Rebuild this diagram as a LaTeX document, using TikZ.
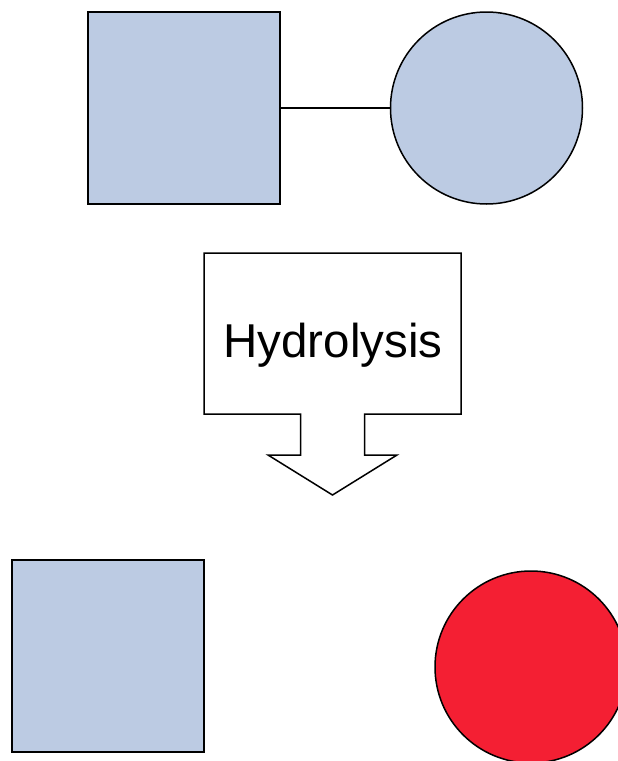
\documentclass[tikz,border=0pt]{standalone}
\usepackage{fontspec}
\setmainfont{Liberation Sans}
\definecolor{paleblue}{HTML}{BCCBE3}
\definecolor{brightred}{HTML}{F41F33}
\begin{document}
\begin{tikzpicture}[x=1pt,y=-1pt,
  outline/.style={draw=black,line width=1.5pt},
  bluesq/.style={outline,fill=paleblue,minimum size=192pt,inner sep=0pt,shape=rectangle},
  roundmol/.style={outline,shape=circle,minimum size=192pt,inner sep=0pt}]
\useasboundingbox (0,0) rectangle (618,761);
\clip (0,0) rectangle (618,761);
% starting molecule: square bonded to circle
\node[bluesq] (sqtop) at (184,108) {};
\node[roundmol,fill=paleblue] (ctop) at (486.5,108) {};
\draw[line width=1.5pt] (sqtop.east) -- (ctop.west);
% reaction callout with downward arrow
\draw[outline,fill=white] (204,253) -- (461,253) -- (461,414) -- (364.5,414)
  -- (364.5,455) -- (397,455) -- (332.5,495) -- (268,455) -- (300.5,455)
  -- (300.5,414) -- (204,414) -- cycle;
\node[font=\fontsize{47.5}{56}\selectfont,anchor=base,inner sep=0pt] (label) at (333,357) {Hydrolysis};
% products
\node[bluesq] (sqbot) at (108,656) {};
\node[roundmol,fill=brightred] (cbot) at (531,667) {};
\end{tikzpicture}
\end{document}
